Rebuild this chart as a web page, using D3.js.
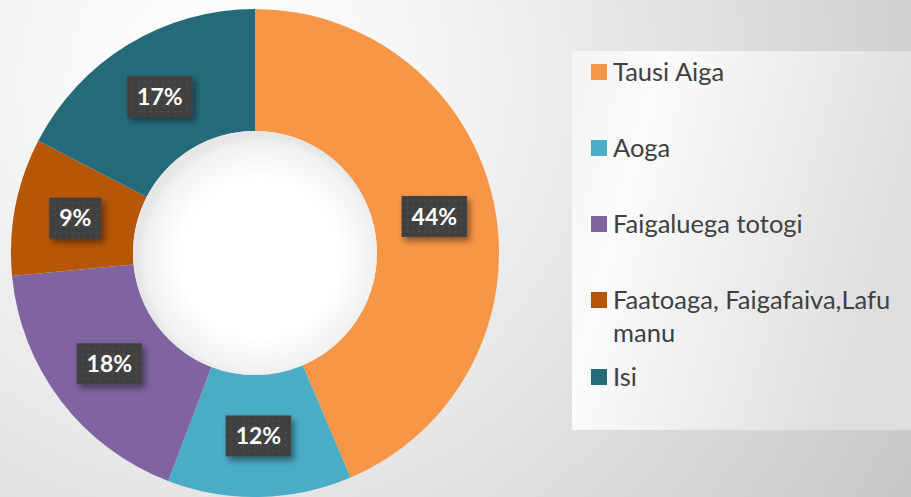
<!DOCTYPE html>
<html>
<head>
  <script src="https://d3js.org/d3.v7.min.js"></script>
  <style>
    body { margin: 0; overflow: hidden; }
    .legend text { fill: #404040; font: 25.5px Lato, sans-serif; }
    .label text { fill: white; font: bold 23px Lato, sans-serif; text-anchor: middle; }
  </style>
</head>
<body>
  <svg class="chart"></svg>
  <script>
    var categories = ['Tausi Aiga', 'Aoga', 'Faigaluega totogi', 'Faatoaga, Faigafaiva,Lafu manu', 'Isi'];
    var values = [43.6, 12.2, 17.7, 9.1, 17.4];
    var colors = ['#f79646', '#4bacc6', '#8064a2', '#b65708', '#256a7b'];

    var width = 911;
    var height = 497;
    var cx = 255, cy = 253;
    var outerR = 244, innerR = 122;

    var svg = d3.select('.chart')
      .attr('width', width)
      .attr('height', height);

    var defs = svg.append('defs');

    var bg = defs.append('radialGradient').attr('id', 'bg')
      .attr('gradientUnits', 'userSpaceOnUse')
      .attr('cx', 220).attr('cy', 80).attr('r', 800);
    bg.append('stop').attr('offset', '0').attr('stop-color', '#ffffff');
    bg.append('stop').attr('offset', '0.25').attr('stop-color', '#f6f6f6');
    bg.append('stop').attr('offset', '1').attr('stop-color', '#c8c8c8');

    var lg = defs.append('linearGradient').attr('id', 'lg')
      .attr('x1', 0).attr('y1', 0).attr('x2', 1).attr('y2', 0.3);
    lg.append('stop').attr('offset', '0').attr('stop-color', '#f4f4f4');
    lg.append('stop').attr('offset', '0.25').attr('stop-color', '#fbfbfb');
    lg.append('stop').attr('offset', '1').attr('stop-color', '#dedede');

    var hole = defs.append('radialGradient').attr('id', 'hole')
      .attr('cx', 0.52).attr('cy', 0.52).attr('r', 0.5);
    hole.append('stop').attr('offset', '0.65').attr('stop-color', '#ffffff');
    hole.append('stop').attr('offset', '0.93').attr('stop-color', '#f2f2f2');
    hole.append('stop').attr('offset', '1').attr('stop-color', '#e6e6e6');

    var dots = defs.append('pattern').attr('id', 'dots')
      .attr('patternUnits', 'userSpaceOnUse')
      .attr('width', 6).attr('height', 6);
    dots.append('rect').attr('width', 6).attr('height', 6).attr('fill', '#404040');
    dots.append('rect').attr('x', 2).attr('y', 2).attr('width', 2).attr('height', 2).attr('fill', '#4c4c4c');

    var shadow = defs.append('filter').attr('id', 'shadow')
      .attr('x', '-30%').attr('y', '-30%').attr('width', '160%').attr('height', '170%');
    shadow.append('feDropShadow').attr('dx', 3).attr('dy', 4)
      .attr('stdDeviation', 3).attr('flood-color', '#000').attr('flood-opacity', 0.45);

    svg.append('rect').attr('width', width).attr('height', height).attr('fill', 'url(#bg)');

    // legend panel
    svg.append('rect')
      .attr('x', 572).attr('y', 51).attr('width', 339).attr('height', 379)
      .attr('fill', 'url(#lg)');

    var pie = d3.pie().sort(null).value(function (d) { return d; });
    var arc = d3.arc().innerRadius(innerR).outerRadius(outerR);
    var labelArc = d3.arc().innerRadius((innerR + outerR) / 2).outerRadius((innerR + outerR) / 2);
    var total = d3.sum(values);
    var fmt = d3.format('.0%');

    var g = svg.append('g').attr('transform', 'translate(' + cx + ',' + cy + ')');

    g.selectAll('path.slice')
      .data(pie(values))
      .enter()
      .append('path')
      .attr('class', 'slice')
      .attr('d', arc)
      .attr('fill', function (d, i) { return colors[i]; });

    g.append('circle').attr('r', innerR).attr('fill', 'url(#hole)');

    var label = g.selectAll('g.label')
      .data(pie(values))
      .enter()
      .append('g')
      .attr('class', 'label')
      .attr('transform', function (d) {
        var c = labelArc.centroid(d);
        return 'translate(' + c[0] + ',' + c[1] + ')';
      });

    label.append('text')
      .attr('dy', '0.36em')
      .text(function (d) { return fmt(d.value / total); })
      .each(function () {
        var b = this.getBBox();
        var w = b.width + 20, h = 41;
        d3.select(this.parentNode).insert('rect', 'text')
          .attr('x', -w / 2).attr('y', -h / 2)
          .attr('width', w).attr('height', h)
          .attr('fill', 'url(#dots)')
          .attr('filter', 'url(#shadow)');
      });

    // legend rows; the long label wraps onto a second line
    var legendY = [72, 148, 224, 300, 377];
    var legendLines = [['Tausi Aiga'], ['Aoga'], ['Faigaluega totogi'], ['Faatoaga, Faigafaiva,Lafu', 'manu'], ['Isi']];
    var legend = svg.append('g').attr('class', 'legend');
    var item = legend.selectAll('g')
      .data(categories)
      .enter()
      .append('g')
      .attr('transform', function (d, i) { return 'translate(591,' + legendY[i] + ')'; });

    item.append('rect')
      .attr('y', -8).attr('width', 16).attr('height', 16)
      .attr('fill', function (d, i) { return colors[i]; });

    item.append('text')
      .attr('x', 22)
      .selectAll('tspan')
      .data(function (d, i) { return legendLines[i]; })
      .enter()
      .append('tspan')
      .attr('x', 22)
      .attr('y', function (d, j) { return 9 + j * 33; })
      .text(function (d) { return d; });
  </script>
</body>
</html>
